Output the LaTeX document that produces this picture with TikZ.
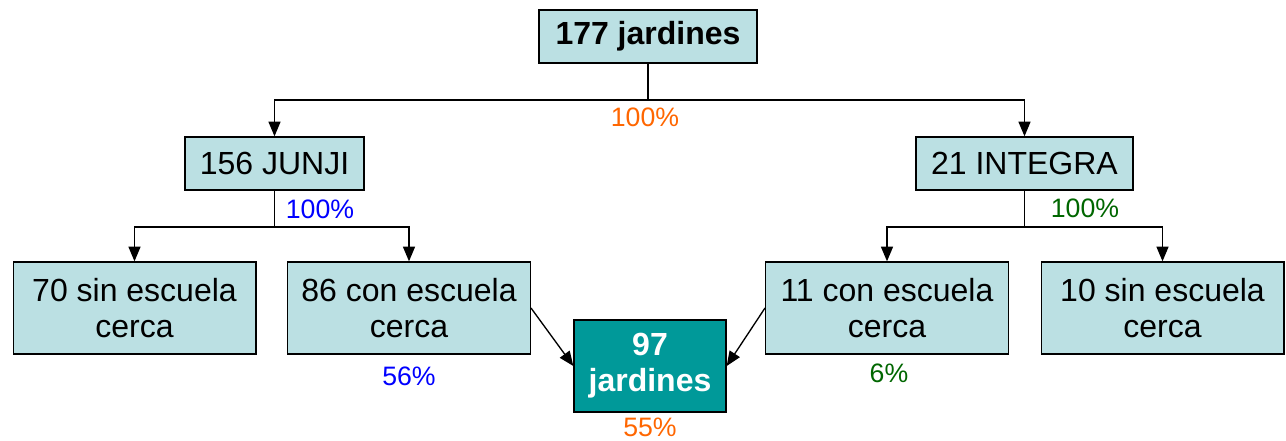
\documentclass[tikz,border=0pt]{standalone}
\usepackage{fontspec}
\setmainfont{Liberation Sans}
\usetikzlibrary{arrows.meta}
\definecolor{boxfill}{HTML}{BBE0E3}
\definecolor{teal97}{HTML}{009999}
\definecolor{pctorange}{HTML}{FF6600}
\definecolor{pctgreen}{HTML}{006600}

\begin{document}
\begin{tikzpicture}[x=0.75pt, y=-0.75pt,
	box/.style={shape=rectangle, draw=black, line width=1pt, fill=boxfill, inner sep=0pt, align=center, font=\fontsize{24}{27}\selectfont},
	wide/.style={box, minimum width=182pt, minimum height=69pt},
	pct/.style={inner sep=0pt, font=\fontsize{20}{22}\selectfont},
	link/.style={draw=black, line width=1pt, -{Triangle[length=11pt,width=9pt]}}]
		\useasboundingbox (0,0) rectangle (1286,441);
		
		\node[box, minimum width=163.5pt, minimum height=39.75pt, font=\fontsize{24}{27}\selectfont\bfseries] (T) at (648,36.5) {177 jardines};
		\node[box, minimum width=134.25pt, minimum height=39.75pt] (J) at (274.5,163.5) {156 JUNJI};
		\node[box, minimum width=162.75pt, minimum height=39.75pt] (I) at (1024.5,163.5) {21 INTEGRA};
		\node[wide] (S70) at (134.5,308) {70 sin escuela\\cerca};
		\node[wide] (C86) at (409,308) {86 con escuela\\cerca};
		\node[wide] (C11) at (887,308) {11 con escuela\\cerca};
		\node[wide] (S10) at (1162.5,308) {10 sin escuela\\cerca};
		\node[box, fill=teal97, text=white, minimum width=114pt, minimum height=69pt, font=\fontsize{24}{27}\selectfont\bfseries] (R) at (650,366) {97\\jardines};
		
		\coordinate (TS) at (648,100);
		\coordinate (JS) at (274.5,227);
		\coordinate (IS) at (1024.5,227);
		
		\node[pct, text=pctorange] (PT) at (645,117) {100\%};
		\node[pct, text=blue] (PJ) at (320,209) {100\%};
		\node[pct, text=pctgreen] (PI) at (1085,208) {100\%};
		\node[pct, text=blue] (P86) at (409,376) {56\%};
		\node[pct, text=pctgreen] (P11) at (889,373) {6\%};
		\node[pct, text=pctorange] (PR) at (650,427) {55\%};
		
		\draw[line width=1pt] (T) -- (TS);
		\draw[link] (TS) -| (J);
		\draw[link] (TS) -| (I);
		\draw[line width=1pt] (J) -- (JS);
		\draw[link] (JS) -| (S70);
		\draw[link] (JS) -| (C86);
		\draw[line width=1pt] (I) -- (IS);
		\draw[link] (IS) -| (C11);
		\draw[link] (IS) -| (S10);
		\draw[link] (C86.east) -- (R.west);
		\draw[link] (C11.west) -- (R.east);
		
	\end{tikzpicture}
\end{document}
